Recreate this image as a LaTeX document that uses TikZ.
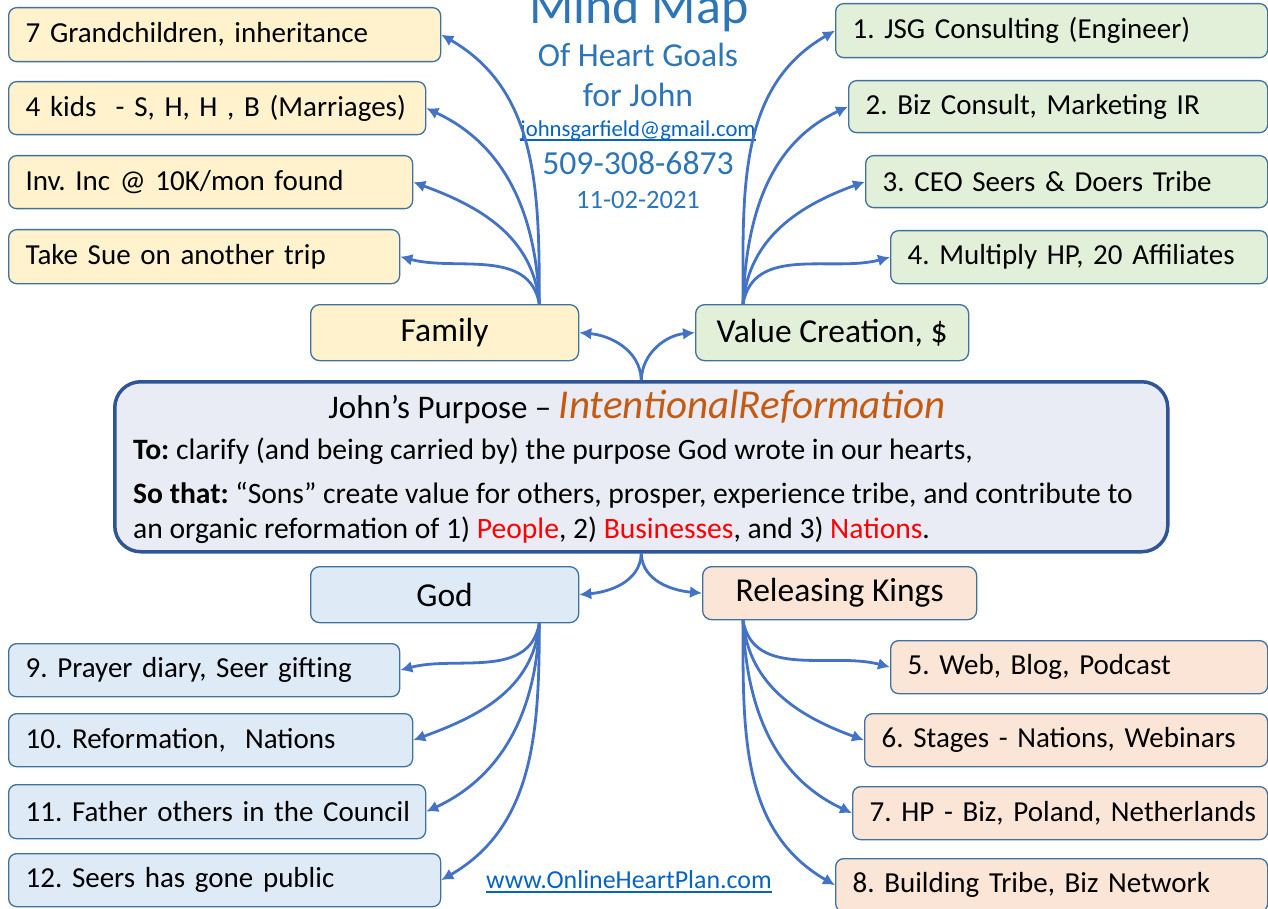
\documentclass[tikz,border=0pt]{standalone}
\usepackage{fontspec}
\setmainfont{Carlito}
\usetikzlibrary{arrows.meta,calc}
\definecolor{arrowc}{HTML}{4472C4}
\definecolor{bordc}{HTML}{41719C}
\definecolor{yellowf}{HTML}{FFF2CC}
\definecolor{greenf}{HTML}{E2F0D9}
\definecolor{bluef}{HTML}{DEEBF7}
\definecolor{peachf}{HTML}{FBE5D6}
\definecolor{centf}{HTML}{E9ECF5}
\definecolor{centb}{HTML}{2F5597}
\definecolor{titlec}{HTML}{2E75B6}
\definecolor{linkc}{HTML}{0563C1}
\definecolor{orangec}{HTML}{C55A11}
\definecolor{redc}{HTML}{FF0000}
\frenchspacing
\tikzset{
  box/.style={draw=bordc, line width=1.3pt, rounded corners=8pt, minimum height=54pt,
    inner xsep=17pt, inner ysep=0pt, anchor=north west, align=left,
    font=\fontsize{29}{33}\selectfont},
  hub/.style={draw=bordc, line width=1.3pt, rounded corners=9pt, minimum height=56pt,
    inner sep=0pt, anchor=north west, align=center, font=\fontsize{33.5}{38}\selectfont},
  arr/.style={draw=arrowc, line width=2.8pt, -{Latex[length=12pt,width=12pt]}},
  ttl/.style={text=titlec, anchor=base},
  link/.style={anchor=base, text=linkc, inner sep=0pt},
  uline/.style={draw=linkc, line width=1.3pt},
  body/.style={anchor=base west, font=\fontsize{29.6}{34}\selectfont, inner sep=0pt},
}
\begin{document}
\begin{tikzpicture}[x=1pt,y=-1pt]
\useasboundingbox (0,0) rectangle (1268,909);

% title
\node[ttl, font=\fontsize{52}{60}\selectfont] (t1) at (639,24) {Mind Map};
\node[ttl, font=\fontsize{33.6}{38}\selectfont] (t2) at (638,67) {Of Heart Goals};
\node[ttl, font=\fontsize{33.6}{38}\selectfont] (t3) at (638,107) {for John};
\node[link, font=\fontsize{22.7}{26}\selectfont] (t4) at (638,137) {johnsgarfield@gmail.com};
\draw[uline] ($(t4.base west)+(0,3)$) -- ($(t4.base east)+(0,3)$);
\node[ttl, font=\fontsize{33.7}{38}\selectfont] (t5) at (638,175) {509-308-6873};
\node[ttl, font=\fontsize{26.5}{30}\selectfont] (t6) at (638,209) {11-02-2021};

% central
\node[draw=centb, line width=3.5pt, fill=centf, rounded corners=26pt, minimum width=1053pt,
  minimum height=170pt, anchor=north west, inner sep=0pt] (purpose) at (113,380) {};
\node[anchor=base, font=\fontsize{33}{38}\selectfont, inner sep=0pt] (ptitle) at (637,418)
  {John’s Purpose – {\color{orangec}\itshape\fontsize{41}{46}\selectfont IntentionalReformation}};
\node[body] (pl1) at (133,459)
  {\textbf{To:} clarify (and being carried by) the purpose God wrote in our hearts,};
\node[body] (pl2) at (133,503)
  {\textbf{So that:} “Sons” create value for others, prosper, experience tribe, and contribute to};
\node[body] (pl3) at (133,538)
  {an organic reformation of 1) {\color{redc}People}, 2) {\color{redc}Businesses}, and 3) {\color{redc}Nations}.};

% hubs
\node[hub, fill=yellowf, minimum width=268pt] (family) at (310,304) {Family};
\node[hub, fill=greenf, minimum width=273pt] (value) at (695,304) {Value Creation, \$};
\node[hub, fill=bluef, minimum width=268pt] (god) at (310,566) {God};
\node[hub, fill=peachf, minimum width=274pt, minimum height=53pt] (kings) at (702,566) {Releasing Kings};

% family leaves
\node[box, fill=yellowf, text width=398pt] (f1) at (8,7) {\mbox{7 Grandchildren, inheritance}};
\node[box, fill=yellowf, text width=383pt, minimum height=53pt] (f2) at (8,81) {\mbox{4 kids \ - S, H, H , B (Marriages)}};
\node[box, fill=yellowf, text width=370pt, minimum height=53pt] (f3) at (8,155) {\mbox{Inv. Inc @ 10K/mon found}};
\node[box, fill=yellowf, text width=357pt] (f4) at (8,229) {\mbox{Take Sue on another trip}};

% value leaves
\node[box, fill=greenf, text width=398pt] (v1) at (835,3) {\mbox{1. JSG Consulting (Engineer)}};
\node[box, fill=greenf, text width=385pt, minimum height=52pt] (v2) at (848,80) {\mbox{2. Biz Consult, Marketing IR}};
\node[box, fill=greenf, text width=368pt, minimum height=52pt] (v3) at (865,155) {\mbox{3. CEO Seers \& Doers Tribe}};
\node[box, fill=greenf, text width=343pt, minimum height=53pt] (v4) at (890,230) {\mbox{4. Multiply HP, 20 Affiliates}};

% god leaves
\node[box, fill=bluef, text width=357pt, minimum height=53pt] (g1) at (8,643) {\mbox{9. Prayer diary, Seer gifting}};
\node[box, fill=bluef, text width=370pt, minimum height=53pt] (g2) at (8,713) {\mbox{10. Reformation, \ Nations}};
\node[box, fill=bluef, text width=383pt] (g3) at (8,784) {\mbox{11. Father others in the Council}};
\node[box, fill=bluef, text width=398pt, minimum height=53pt] (g4) at (8,853) {\mbox{12. Seers has gone public}};

% kings leaves
\node[box, fill=peachf, text width=343pt, minimum height=53pt] (k1) at (890,640) {\mbox{5. Web, Blog, Podcast}};
\node[box, fill=peachf, text width=369pt, minimum height=53pt] (k2) at (864,713) {\mbox{6. Stages - Nations, Webinars}};
\node[box, fill=peachf, text width=381pt, minimum height=53pt] (k3) at (852,786) {\mbox{7. HP - Biz, Poland, Netherlands}};
\node[box, fill=peachf, text width=398pt, minimum height=53pt] (k4) at (835,858) {\mbox{8. Building Tribe, Biz Network}};

% url
\node[link, font=\fontsize{25.9}{30}\selectfont] (url) at (629,888) {www.OnlineHeartPlan.com};
\draw[uline] ($(url.base west)+(0,4)$) -- ($(url.base east)+(0,4)$);

% connectors
\coordinate (ft) at ($(family.north east)+(-40,0)$);
\coordinate (vt) at ($(value.north west)+(48,0)$);
\coordinate (gb) at ($(god.south east)+(-40,0)$);
\coordinate (kb) at ($(kings.south west)+(41,0)$);

\draw[arr] (purpose.north) to[out=92,in=-5] (family.east);
\draw[arr] (purpose.north) to[out=88,in=185] (value.west);
\draw[arr] (purpose.south) to[out=-92,in=5] (god.east);
\draw[arr] (purpose.south) to[out=-88,in=175] (kings.west);

\draw[arr] (ft) to[out=90,in=-30] (f1.east);
\draw[arr] (ft) to[out=92,in=-25] (f2.east);
\draw[arr] (ft) to[out=95,in=-20] (f3.east);
\draw[arr] (ft) to[out=100,in=-15] (f4.east);

\draw[arr] (vt) to[out=90,in=-150] (v1.west);
\draw[arr] (vt) to[out=88,in=-155] (v2.west);
\draw[arr] (vt) to[out=85,in=-160] (v3.west);
\draw[arr] (vt) to[out=80,in=-165] (v4.west);

\draw[arr] (gb) to[out=-100,in=15] (g1.east);
\draw[arr] (gb) to[out=-95,in=20] (g2.east);
\draw[arr] (gb) to[out=-92,in=25] (g3.east);
\draw[arr] (gb) to[out=-90,in=30] (g4.east);

\draw[arr] (kb) to[out=-80,in=165] (k1.west);
\draw[arr] (kb) to[out=-85,in=160] (k2.west);
\draw[arr] (kb) to[out=-88,in=155] (k3.west);
\draw[arr] (kb) to[out=-90,in=150] (k4.west);
\end{tikzpicture}
\end{document}
